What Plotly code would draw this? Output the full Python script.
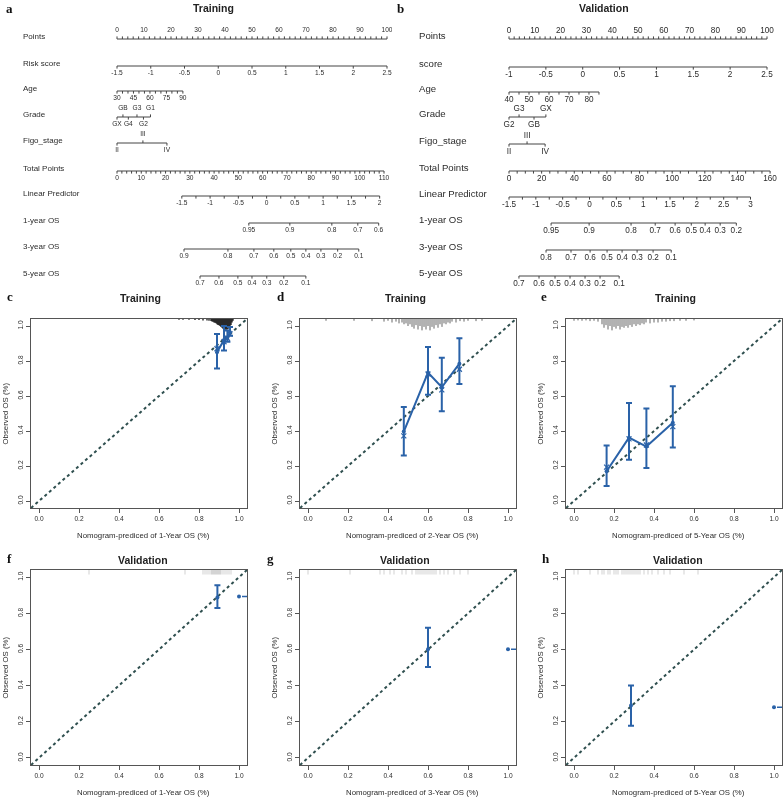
import plotly.graph_objects as go

W, H = 784, 798

# ======================= DATA =======================
# ---- Nomogram a (Training) ----
a_points_labels = [0, 10, 20, 30, 40, 50, 60, 70, 80, 90, 100]
a_risk_labels = [-1.5, -1, -0.5, 0, 0.5, 1, 1.5, 2, 2.5]
a_age_labels = [30, 45, 60, 75, 90]
a_grade_levels = ["GX", "GB", "G4", "G3", "G2", "G1"]
a_grade_points = [0.0, 2.2, 4.2, 7.4, 9.8, 12.4]
a_grade_side = [1, -1, 1, -1, 1, -1]
a_figo_levels = ["II", "III", "IV"]
a_figo_points = [0.0, 9.6, 18.5]
a_figo_side = [1, -1, 1]
a_total_labels = [0, 10, 20, 30, 40, 50, 60, 70, 80, 90, 100, 110]
a_lp_labels = [-1.5, -1, -0.5, 0, 0.5, 1, 1.5, 2]
a_os1_labels = ["0.95", "0.9", "0.8", "0.7", "0.6"]
a_os1_total = [54.3, 71.2, 88.5, 99.2, 107.8]
a_os3_labels = ["0.9", "0.8", "0.7", "0.6", "0.5", "0.4", "0.3", "0.2", "0.1"]
a_os3_total = [27.6, 45.7, 56.4, 64.6, 71.6, 77.8, 84.0, 90.9, 99.6]
a_os5_labels = ["0.7", "0.6", "0.5", "0.4", "0.3", "0.2", "0.1"]
a_os5_total = [34.2, 42.0, 49.8, 55.6, 61.7, 68.7, 77.8]
# scale anchors: (value0, points0, value1, points1)
a_risk_scale = (-1.5, 0.0, 2.5, 100.0)
a_age_scale = (30, 0.0, 90, 24.4)
a_total_scale = (0, 0.0, 110, 98.9)
a_lp_scale = (-1.5, 26.7, 2.0, 108.2)   # value -> total points

# ---- Nomogram b (Validation) ----
b_points_labels = [0, 10, 20, 30, 40, 50, 60, 70, 80, 90, 100]
b_score_labels = [-1, -0.5, 0, 0.5, 1, 1.5, 2, 2.5]
b_age_labels = [40, 50, 60, 70, 80]
b_age_max = 85
b_grade_levels = ["G2", "G3", "GB", "GX"]
b_grade_points = [0.0, 3.9, 9.7, 14.3]
b_grade_side = [1, -1, 1, -1]
b_figo_levels = ["II", "III", "IV"]
b_figo_points = [0.0, 7.0, 14.0]
b_figo_side = [1, -1, 1]
b_total_labels = [0, 20, 40, 60, 80, 100, 120, 140, 160]
b_lp_labels = [-1.5, -1, -0.5, 0, 0.5, 1, 1.5, 2, 2.5, 3]
b_os1_labels = ["0.95", "0.9", "0.8", "0.7", "0.6", "0.5", "0.4", "0.3", "0.2"]
b_os1_total = [25.8, 49.1, 74.8, 89.6, 101.8, 111.7, 120.2, 129.4, 139.3]
b_os3_labels = ["0.8", "0.7", "0.6", "0.5", "0.4", "0.3", "0.2", "0.1"]
b_os3_total = [22.7, 38.0, 49.7, 60.1, 69.3, 78.5, 88.3, 99.4]
b_os5_labels = ["0.7", "0.6", "0.5", "0.4", "0.3", "0.2", "0.1"]
b_os5_total = [6.1, 18.4, 28.2, 37.4, 46.6, 55.8, 67.5]
b_score_scale = (-1.0, 0.0, 2.5, 100.0)
b_age_scale = (40, 0.0, 80, 31.0)
b_total_scale = (0, 0.0, 160, 101.2)
b_lp_scale = (-1.5, 0.0, 3.0, 148.0)

# ---- Calibration c: Training 1-year ----
c_pred = [0.890, 0.925, 0.942, 0.955]
c_obs = [0.850, 0.920, 0.935, 0.965]
c_corr = [0.870, 0.910, 0.930, 0.955]
c_lo = [0.757, 0.860, 0.910, 0.945]
c_hi = [0.955, 1.000, 0.975, 0.995]
c_rug_x = [0.70, 0.72, 0.75, 0.78, 0.80, 0.82, 0.84, 0.85, 0.86, 0.865, 0.87, 0.875,
           0.88, 0.885, 0.89, 0.895, 0.90, 0.905, 0.91, 0.915, 0.92, 0.925, 0.93,
           0.935, 0.94, 0.945, 0.95, 0.955, 0.96, 0.965, 0.97]
c_rug_h = [0.005, 0.005, 0.005, 0.006, 0.006, 0.008, 0.008, 0.010, 0.012, 0.014, 0.016, 0.020,
           0.022, 0.025, 0.030, 0.034, 0.036, 0.040, 0.045, 0.050, 0.055, 0.060, 0.060,
           0.062, 0.060, 0.058, 0.050, 0.045, 0.035, 0.020, 0.010]

# ---- Calibration d: Training 2-year ----
d_pred = [0.479, 0.600, 0.669, 0.757]
d_obs = [0.397, 0.734, 0.650, 0.785]
d_corr = [0.372, 0.725, 0.635, 0.753]
d_lo = [0.260, 0.607, 0.513, 0.668]
d_hi = [0.537, 0.880, 0.818, 0.930]
d_rug_x = [0.09, 0.23, 0.32, 0.38, 0.40, 0.42, 0.44, 0.455, 0.47, 0.48, 0.49, 0.50, 0.51,
           0.52, 0.53, 0.54, 0.55, 0.56, 0.57, 0.58, 0.59, 0.60, 0.61, 0.62, 0.63, 0.64,
           0.65, 0.66, 0.67, 0.68, 0.69, 0.70, 0.71, 0.72, 0.74, 0.76, 0.78, 0.80, 0.84, 0.87]
d_rug_h = [0.010, 0.010, 0.012, 0.015, 0.010, 0.020, 0.015, 0.025, 0.020, 0.030, 0.025, 0.040,
           0.030, 0.045, 0.055, 0.035, 0.060, 0.040, 0.065, 0.045, 0.060, 0.040, 0.065, 0.045,
           0.055, 0.035, 0.050, 0.030, 0.045, 0.025, 0.030, 0.020, 0.025, 0.015, 0.020, 0.012,
           0.015, 0.010, 0.012, 0.010]

# ---- Calibration e: Training 5-year ----
e_pred = [0.163, 0.275, 0.362, 0.494]
e_obs = [0.170, 0.362, 0.311, 0.447]
e_corr = [0.194, 0.355, 0.320, 0.425]
e_lo = [0.085, 0.235, 0.188, 0.306]
e_hi = [0.317, 0.560, 0.528, 0.656]
e_rug_x = [0.00, 0.02, 0.04, 0.06, 0.08, 0.10, 0.12, 0.14, 0.15, 0.16, 0.17, 0.18, 0.19,
           0.20, 0.21, 0.22, 0.23, 0.24, 0.25, 0.26, 0.27, 0.28, 0.29, 0.30, 0.31, 0.32,
           0.33, 0.34, 0.35, 0.36, 0.38, 0.40, 0.42, 0.44, 0.46, 0.48, 0.50, 0.53, 0.56, 0.60]
e_rug_h = [0.010, 0.008, 0.010, 0.008, 0.012, 0.010, 0.015, 0.030, 0.050, 0.035, 0.060, 0.040,
           0.065, 0.045, 0.055, 0.040, 0.060, 0.045, 0.050, 0.040, 0.050, 0.035, 0.045, 0.030,
           0.040, 0.030, 0.035, 0.025, 0.030, 0.020, 0.025, 0.020, 0.020, 0.015, 0.015, 0.012,
           0.012, 0.010, 0.010, 0.008]

# ---- Calibration f/g/h: Validation ----
f_pred, f_obs, f_lo, f_hi = [0.892], [0.888], [0.830], [0.955]
f_edge_pred, f_edge_obs = [1.0], [0.893]
f_rug_x = [0.25, 0.73, 0.82, 0.83, 0.84, 0.85, 0.86, 0.865, 0.87, 0.875, 0.88, 0.885,
           0.89, 0.895, 0.90, 0.905, 0.91, 0.92, 0.93, 0.94, 0.95, 0.96]

g_pred, g_obs, g_lo, g_hi = [0.600], [0.601], [0.503], [0.720]
g_edge_pred, g_edge_obs = [1.0], [0.601]
g_rug_x = [0.00, 0.21, 0.36, 0.38, 0.41, 0.43, 0.47, 0.49, 0.52, 0.54, 0.55, 0.56, 0.57,
           0.58, 0.59, 0.60, 0.61, 0.62, 0.63, 0.64, 0.66, 0.68, 0.70, 0.73, 0.76, 0.80]

h_pred, h_obs, h_lo, h_hi = [0.285], [0.290], [0.178], [0.400]
h_edge_pred, h_edge_obs = [1.0], [0.280]
h_rug_x = [0.00, 0.02, 0.08, 0.12, 0.14, 0.15, 0.17, 0.18, 0.20, 0.21, 0.22, 0.24, 0.25,
           0.26, 0.27, 0.28, 0.29, 0.30, 0.31, 0.32, 0.33, 0.35, 0.37, 0.39, 0.42, 0.45,
           0.48, 0.55, 0.62]

calib_ticks = [0, 0.2, 0.4, 0.6, 0.8, 1.0]

# ======================= STYLE / HELPERS =======================
BLUE = "#2a62a8"
DIAG = "#2f4f4f"
TXT = "#2b2b2b"
AXC = "#555555"
SANS = "Liberation Sans, Arial, sans-serif"
SERIF = "Liberation Serif, Times New Roman, serif"


def xp(px):
    return px / W


def yp(py):
    return 1 - py / H


def lin(v, s):
    v0, p0, v1, p1 = s
    return p0 + (v - v0) * (p1 - p0) / (v1 - v0)


def fmt(v):
    return "%g" % v


fig = go.Figure()

# ---------- nomogram builder ----------
NOMO_H = 312


def build_nomogram(n, rows, label_x, row_font, tick_font, tick_len=2.6):
    xa, ya = ("x", "y") if n == 1 else ("x%d" % n, "y%d" % n)
    lx, ly, tx, ty, tt, rx, ry, rt = [], [], [], [], [], [], [], []
    for r in rows:
        y = r["y"]
        p0, p1 = r["span"]
        lx += [p0, p1, None]
        ly += [y, y, None]
        for p, d in r["ticks"]:
            lx += [p, p, None]
            ly += [y, y + d * tick_len, None]
        for p, t, d in r["texts"]:
            tx.append(p)
            ty.append(y + (7.6 if d > 0 else -8.2))
            tt.append(t)
        rx.append(label_x)
        ry.append(y - 2)
        rt.append(r["name"])
    fig.add_trace(go.Scatter(x=lx, y=ly, mode="lines", xaxis=xa, yaxis=ya,
                             line=dict(color="#444444", width=1), hoverinfo="skip"))
    fig.add_trace(go.Scatter(x=tx, y=ty, text=tt, mode="text", xaxis=xa, yaxis=ya,
                             textposition="middle center",
                             textfont=dict(family=SANS, size=tick_font, color=TXT),
                             hoverinfo="skip"))
    fig.add_trace(go.Scatter(x=rx, y=ry, text=rt, mode="text", xaxis=xa, yaxis=ya,
                             textposition="middle right",
                             textfont=dict(family=SANS, size=row_font, color=TXT),
                             hoverinfo="skip"))


def cont_row(name, y, labels, scale, minor_step, side=1, vmax=None, fmt_fn=fmt):
    vmin = labels[0]
    vmax = labels[-1] if vmax is None else vmax
    ticks = []
    v = vmin
    while v <= vmax + 1e-9:
        ticks.append((lin(v, scale), 1))
        v += minor_step
    return dict(name=name, y=y, span=(lin(vmin, scale), lin(vmax, scale)),
                ticks=ticks, texts=[(lin(l, scale), fmt_fn(l), side) for l in labels])


def cat_row(name, y, levels, points, sides):
    return dict(name=name, y=y, span=(min(points), max(points)),
                ticks=[(p, s) for p, s in zip(points, sides)],
                texts=[(p, l, s) for p, l, s in zip(points, levels, sides)])


def os_row(name, y, labels, totals, tscale):
    pts = [lin(t, tscale) for t in totals]
    return dict(name=name, y=y, span=(min(pts), max(pts)),
                ticks=[(p, 1) for p in pts],
                texts=[(p, l, 1) for p, l in zip(pts, labels)])


def lp_row(name, y, labels, lpscale, tscale, minor_step):
    ticks = []
    v = labels[0]
    while v <= labels[-1] + 1e-9:
        ticks.append((lin(lin(v, lpscale), tscale), 1))
        v += minor_step
    pts = [lin(lin(l, lpscale), tscale) for l in labels]
    return dict(name=name, y=y, span=(pts[0], pts[-1]), ticks=ticks,
                texts=[(p, fmt(l), 1) for p, l in zip(pts, labels)])


def points_row(name, y, labels, minor_step):
    ticks = []
    v = labels[0]
    while v <= labels[-1] + 1e-9:
        ticks.append((v, -1))
        v += minor_step
    return dict(name=name, y=y, span=(labels[0], labels[-1]), ticks=ticks,
                texts=[(l, fmt(l), -1) for l in labels])


# ---- nomogram a ----
rows_a = [
    points_row("Points", 39, a_points_labels, 2),
    cont_row("Risk score", 66, a_risk_labels, a_risk_scale, 0.5),
    cont_row("Age", 91, a_age_labels, a_age_scale, 5),
    cat_row("Grade", 117, a_grade_levels, a_grade_points, a_grade_side),
    cat_row("Figo_stage", 143, a_figo_levels, a_figo_points, a_figo_side),
    cont_row("Total Points", 171, a_total_labels, a_total_scale, 2),
    lp_row("Linear Predictor", 196, a_lp_labels, a_lp_scale, a_total_scale, 0.25),
    os_row("1-year OS", 223, a_os1_labels, a_os1_total, a_total_scale),
    os_row("3-year OS", 249, a_os3_labels, a_os3_total, a_total_scale),
    os_row("5-year OS", 276, a_os5_labels, a_os5_total, a_total_scale),
]
A_P0, A_PPU = 117, 2.7
build_nomogram(1, rows_a, (23 - A_P0) / A_PPU, 8, 6.6)

# ---- nomogram b ----
rows_b = [
    points_row("Points", 39, b_points_labels, 2),
    cont_row("score", 67, b_score_labels, b_score_scale, 0.5),
    cont_row("Age", 92, b_age_labels, b_age_scale, 5, vmax=b_age_max),
    cat_row("Grade", 117, b_grade_levels, b_grade_points, b_grade_side),
    cat_row("Figo_stage", 144, b_figo_levels, b_figo_points, b_figo_side),
    cont_row("Total Points", 171, b_total_labels, b_total_scale, 5),
    lp_row("Linear Predictor", 197, b_lp_labels, b_lp_scale, b_total_scale, 0.25),
    os_row("1-year OS", 223, b_os1_labels, b_os1_total, b_total_scale),
    os_row("3-year OS", 250, b_os3_labels, b_os3_total, b_total_scale),
    os_row("5-year OS", 276, b_os5_labels, b_os5_total, b_total_scale),
]
B_P0, B_PPU = 509, 2.58
build_nomogram(2, rows_b, (419 - B_P0) / B_PPU, 9.6, 8.2)

hidden = dict(visible=False, showgrid=False, zeroline=False, fixedrange=True)
fig.update_layout(
    xaxis=dict(domain=[0, 0.5], range=[-A_P0 / A_PPU, (392 - A_P0) / A_PPU], anchor="y", **hidden),
    yaxis=dict(domain=[yp(NOMO_H), 1], range=[NOMO_H, 0], anchor="x", **hidden),
    xaxis2=dict(domain=[0.5, 1], range=[(392 - B_P0) / B_PPU, (784 - B_P0) / B_PPU], anchor="y2", **hidden),
    yaxis2=dict(domain=[yp(NOMO_H), 1], range=[NOMO_H, 0], anchor="x2", **hidden),
)

# ---------- calibration panels ----------
RNG = [-0.04, 1.04]
RUG_LIGHT = "rgba(110,110,110,0.40)"
panels = [
    dict(idx=3, box=(31, 247, 319, 508), pred=c_pred, obs=c_obs, corr=c_corr, lo=c_lo, hi=c_hi,
         rug_x=c_rug_x, rug_h=c_rug_h, rug_col="#000000", rug_w=1.2, year="1"),
    dict(idx=4, box=(300, 516, 319, 508), pred=d_pred, obs=d_obs, corr=d_corr, lo=d_lo, hi=d_hi,
         rug_x=d_rug_x, rug_h=d_rug_h, rug_col="#555555", rug_w=0.9, year="2"),
    dict(idx=5, box=(566, 782, 319, 508), pred=e_pred, obs=e_obs, corr=e_corr, lo=e_lo, hi=e_hi,
         rug_x=e_rug_x, rug_h=e_rug_h, rug_col="#555555", rug_w=0.9, year="5"),
    dict(idx=6, box=(31, 247, 570, 765), pred=f_pred, obs=f_obs, corr=None, lo=f_lo, hi=f_hi,
         rug_x=f_rug_x, rug_h=None, rug_col=RUG_LIGHT, rug_w=0.8, year="1",
         edge=(f_edge_pred, f_edge_obs)),
    dict(idx=7, box=(300, 516, 570, 765), pred=g_pred, obs=g_obs, corr=None, lo=g_lo, hi=g_hi,
         rug_x=g_rug_x, rug_h=None, rug_col=RUG_LIGHT, rug_w=0.8, year="3",
         edge=(g_edge_pred, g_edge_obs)),
    dict(idx=8, box=(566, 782, 570, 765), pred=h_pred, obs=h_obs, corr=None, lo=h_lo, hi=h_hi,
         rug_x=h_rug_x, rug_h=None, rug_col=RUG_LIGHT, rug_w=0.8, year="5",
         edge=(h_edge_pred, h_edge_obs)),
]

annotations = []
for P in panels:
    i = P["idx"]
    xa, ya = "x%d" % i, "y%d" % i
    l, r, t, b = P["box"]
    # rug
    rx, ry = [], []
    heights = P["rug_h"] if P["rug_h"] is not None else [0.025] * len(P["rug_x"])
    for x, hgt in zip(P["rug_x"], heights):
        rx += [x, x, None]
        ry += [RNG[1], RNG[1] - hgt, None]
    fig.add_trace(go.Scatter(x=rx, y=ry, mode="lines", xaxis=xa, yaxis=ya,
                             line=dict(color=P["rug_col"], width=P["rug_w"]), hoverinfo="skip"))
    # diagonal reference
    fig.add_trace(go.Scatter(x=RNG, y=RNG, mode="lines", xaxis=xa, yaxis=ya,
                             line=dict(color=DIAG, width=2, dash="3px,3px"), hoverinfo="skip"))
    # calibration curve with error bars
    plus = [h_ - o for h_, o in zip(P["hi"], P["obs"])]
    minus = [o - l_ for o, l_ in zip(P["obs"], P["lo"])]
    fig.add_trace(go.Scatter(x=P["pred"], y=P["obs"], mode="lines+markers", xaxis=xa, yaxis=ya,
                             line=dict(color=BLUE, width=2),
                             marker=dict(color=BLUE, size=4),
                             error_y=dict(type="data", symmetric=False, array=plus, arrayminus=minus,
                                          color=BLUE, thickness=2, width=3),
                             hoverinfo="skip"))
    if P["corr"] is not None:
        fig.add_trace(go.Scatter(x=P["pred"], y=P["corr"], mode="markers", xaxis=xa, yaxis=ya,
                                 marker=dict(symbol="x-thin", size=5, line=dict(color=BLUE, width=1.2)),
                                 hoverinfo="skip"))
    if P.get("edge"):
        ex, ey = P["edge"]
        fig.add_trace(go.Scatter(x=[ex[0], ex[0] + 0.3], y=[ey[0], ey[0]], mode="lines", xaxis=xa, yaxis=ya,
                                 line=dict(color=BLUE, width=1.5, dash="0px,3px,300px"), hoverinfo="skip"))
        fig.add_trace(go.Scatter(x=ex, y=ey, mode="markers", xaxis=xa, yaxis=ya,
                                 marker=dict(color=BLUE, size=4), hoverinfo="skip"))
    common = dict(range=RNG, tickvals=calib_ticks, tickformat=".1f", ticks="outside", ticklen=4,
                  tickcolor=AXC, showline=True, mirror=True, linecolor=AXC, linewidth=1,
                  showgrid=False, zeroline=False, fixedrange=True,
                  tickfont=dict(family=SANS, size=6.6, color=TXT))
    fig.update_layout(**{
        "xaxis%d" % i: dict(domain=[xp(l), xp(r)], anchor=ya, **common),
        "yaxis%d" % i: dict(domain=[yp(b), yp(t)], anchor=xa, tickangle=-90, **common),
    })
    annotations.append(dict(x=xp((l + r) / 2 + 4), y=yp(b + 27), xref="paper", yref="paper",
                            text="Nomogram-prediced of %s-Year OS (%%)" % P["year"], showarrow=False,
                            font=dict(family=SANS, size=7.8, color=TXT), xanchor="center", yanchor="middle"))
    annotations.append(dict(x=xp(l - 26), y=yp((t + b) / 2), xref="paper", yref="paper",
                            text="Observed OS (%)", showarrow=False, textangle=-90,
                            font=dict(family=SANS, size=7.8, color=TXT), xanchor="center", yanchor="middle"))

# titles and panel letters
titles = [("Training", 213, 8), ("Validation", 604, 8),
          ("Training", 140, 298), ("Training", 405, 298), ("Training", 675, 298),
          ("Validation", 143, 560), ("Validation", 405, 560), ("Validation", 678, 560)]
for txt, x, y in titles:
    annotations.append(dict(x=xp(x), y=yp(y), xref="paper", yref="paper", text="<b>%s</b>" % txt,
                            showarrow=False, font=dict(family=SANS, size=10.5, color="#222222"),
                            xanchor="center", yanchor="middle"))
letters = [("a", 4, 8), ("b", 395, 8), ("c", 5, 297), ("d", 275, 297), ("e", 539, 297),
           ("f", 5, 558), ("g", 265, 558), ("h", 540, 558)]
for txt, x, y in letters:
    annotations.append(dict(x=xp(x), y=yp(y), xref="paper", yref="paper", text="<b>%s</b>" % txt,
                            showarrow=False, font=dict(family=SERIF, size=13, color="#111111"),
                            xanchor="left", yanchor="middle"))

fig.update_layout(width=W, height=H, margin=dict(l=0, r=0, t=0, b=0),
                  paper_bgcolor="white", plot_bgcolor="white", showlegend=False,
                  annotations=annotations)
fig.write_html("out.html", config={"displayModeBar": False, "staticPlot": True},
               post_script="document.body.style.margin='0';"
                           "document.body.style.overflow='hidden';"
                           "document.documentElement.style.overflow='hidden';"
                           "document.querySelectorAll('.plotly-graph-div').forEach(function(e){"
                           "e.style.opacity='0.999';e.style.willChange='transform';});")
